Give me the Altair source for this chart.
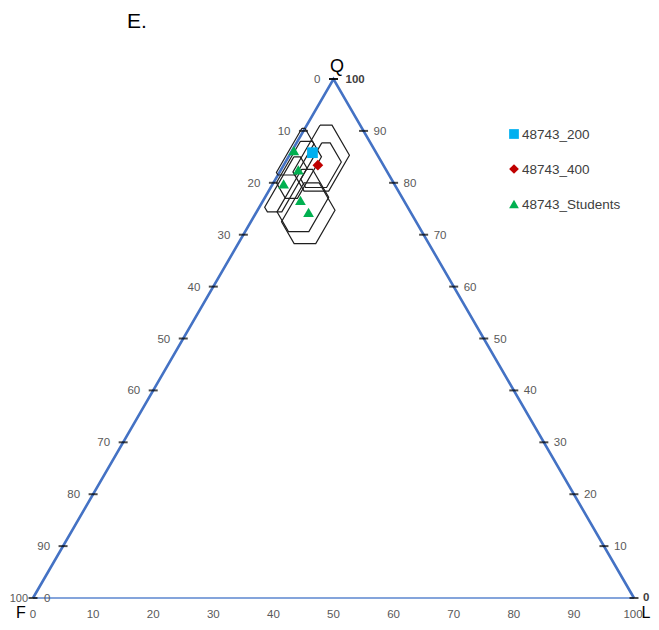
import altair as alt
import pandas as pd

# ---------------- data (ternary percentages) ----------------
series_names = ["48743_200", "48743_400", "48743_Students"]
series_colors = ["#00B0F0", "#C00000", "#00B050"]
series_shapes = ["square", "diamond", "triangle-up"]

pt_series = ["48743_200", "48743_400", "48743_Students", "48743_Students",
             "48743_Students", "48743_Students", "48743_Students"]
pt_Q = [85.8, 83.4, 86.2, 82.5, 79.8, 76.6, 74.3]
pt_L = [3.6, 5.7, 0.3, 2.9, 1.8, 6.2, 8.7]

# confidence hexagons: bounds on Q, L and F
hex_Qmin = [78.4, 79.1, 81.5, 77.0, 74.4, 70.6, 68.3]
hex_Qmax = [91.1, 87.7, 90.5, 88.0, 85.0, 82.6, 80.0]
hex_Lmin = [2.2, 4.2, -0.5, 0.5, 0.9, 3.4, 5.1]
hex_Lmax = [10.0, 9.3, 3.0, 5.5, 4.2, 10.6, 12.9]
hex_Fmin = [4.7, 6.7, 9.5, 9.5, 13.0, 12.2, 12.4]
hex_Fmax = [15.7, 15.1, 18.5, 19.5, 23.8, 22.2, 22.4]

left_labels = [0, 10, 20, 30, 40, 50, 60, 70, 80, 90, 100]     # top -> F corner
right_labels = [100, 90, 80, 70, 60, 50, 40, 30, 20, 10, 0]    # top -> L corner
bottom_labels = [0, 10, 20, 30, 40, 50, 60, 70, 80, 90, 100]   # F corner -> L corner

# ---------------- tables ----------------
pts = pd.DataFrame({"series": pt_series, "Q": pt_Q, "L": pt_L})

hex_rows = []
for i in range(len(hex_Qmin)):
    qn, qx = hex_Qmin[i], hex_Qmax[i]
    ln, lx = hex_Lmin[i], hex_Lmax[i]
    fn, fx = hex_Fmin[i], hex_Fmax[i]
    verts = [
        (qx, ln),
        (qx, 100 - qx - fn),
        (100 - lx - fn, lx),
        (qn, lx),
        (qn, 100 - qn - fx),
        (100 - ln - fx, ln),
    ]
    verts.append(verts[0])
    for k, (q, l) in enumerate(verts):
        hex_rows.append({"hex": i, "ord": k, "Q": q, "L": l})
hexes = pd.DataFrame(hex_rows)

slanted = pd.DataFrame({"ord": [0, 1, 2], "Q": [0, 100, 0], "L": [0, 0, 100]})
base_edge = pd.DataFrame({"ord": [0, 1], "Q": [0, 0], "L": [0, 100]})

left_df = pd.DataFrame({"t": left_labels, "Q": [100 - v for v in left_labels], "L": [0] * len(left_labels)})
right_df = pd.DataFrame({"t": right_labels, "Q": right_labels, "L": [100 - v for v in right_labels]})
bottom_df = pd.DataFrame({"t": bottom_labels, "Q": [0] * len(bottom_labels), "L": bottom_labels})
corner_zero = pd.DataFrame({"t": [0], "Q": [0], "L": [0]})

# ---------------- scales ----------------
W, H = 643, 614
xs = alt.Scale(domain=[-4.16, 102.83], nice=False, zero=False)
ys = alt.Scale(domain=[-4.62, 113.68], nice=False, zero=False)

FONT = "Liberation Sans"
LABEL_GRAY = "#595959"
FS = 11.5


def tern(df):
    return alt.Chart(df).transform_calculate(
        x="datum.L + datum.Q / 2", y="datum.Q"
    )


X = alt.X("x:Q", scale=xs, axis=None)
Y = alt.Y("y:Q", scale=ys, axis=None)

edges_thick = tern(slanted).mark_line(color="#4472C4", strokeWidth=2.6).encode(
    x=X, y=Y, order="ord:Q")
edges_thin = tern(base_edge).mark_line(color="#5B86CF", strokeWidth=1.3).encode(
    x=X, y=Y, order="ord:Q")

ticks_left = tern(left_df).mark_tick(orient="horizontal", size=9, thickness=2, color="black").encode(x=X, y=Y)
ticks_right = tern(right_df).mark_tick(orient="horizontal", size=9, thickness=2, color="black").encode(x=X, y=Y)

lab_left = tern(left_df).transform_filter("datum.t < 100").mark_text(
    align="right", baseline="middle", dx=-13, dy=1,
    font=FONT, fontSize=FS, color=LABEL_GRAY).encode(x=X, y=Y, text="t:N")
lab_left_end = tern(left_df).transform_filter("datum.t == 100").mark_text(
    align="right", baseline="middle", dx=-5, dy=1,
    font=FONT, fontSize=11, color=LABEL_GRAY).encode(x=X, y=Y, text="t:N")
lab_right = tern(right_df).transform_filter("datum.t > 0 && datum.t < 100").mark_text(
    align="left", baseline="middle", dx=10, dy=1, font=FONT, fontSize=FS, color=LABEL_GRAY).encode(
    x=X, y=Y, text="t:N")
lab_right_top = tern(right_df).transform_filter("datum.t == 100").mark_text(
    align="left", baseline="middle", dx=12, dy=1, font=FONT, fontSize=FS, fontWeight="bold",
    color="#404040").encode(x=X, y=Y, text="t:N")
lab_right_bottom = tern(right_df).transform_filter("datum.t == 0").mark_text(
    align="left", baseline="middle", dx=9, dy=0, font=FONT, fontSize=FS, fontWeight="bold",
    color="#404040").encode(x=X, y=Y, text="t:N")
lab_corner0 = tern(corner_zero).mark_text(
    align="left", baseline="middle", dx=11, dy=1, font=FONT, fontSize=FS, color=LABEL_GRAY).encode(
    x=X, y=Y, text="t:N")
lab_bottom = tern(bottom_df).transform_filter("datum.t < 100").mark_text(
    align="center", baseline="middle", dy=17,
    font=FONT, fontSize=FS, color=LABEL_GRAY).encode(x=X, y=Y, text="t:N")
lab_bottom_end = tern(bottom_df).transform_filter("datum.t == 100").mark_text(
    align="center", baseline="middle", dy=17, dx=-1,
    font=FONT, fontSize=FS, color=LABEL_GRAY).encode(x=X, y=Y, text="t:N")

hex_layer = tern(hexes).mark_line(color="#1f1f1f", strokeWidth=1.2).encode(
    x=X, y=Y, detail="hex:N", order="ord:Q")

points = tern(pts).mark_point(filled=True, size=115, opacity=1).encode(
    x=X, y=Y,
    color=alt.Color("series:N", scale=alt.Scale(domain=series_names, range=series_colors), legend=None),
    shape=alt.Shape("series:N", scale=alt.Scale(domain=series_names, range=series_shapes), legend=None),
)

# custom legend
legend_layers = []
leg_y = [126, 161, 196]
for name, col, shp, yy in zip(series_names, series_colors, series_shapes, leg_y):
    d = pd.DataFrame({"label": [name]})
    legend_layers.append(
        alt.Chart(d).mark_point(filled=True, opacity=1, size=95, shape=shp, color=col).encode(
            x=alt.value(506), y=alt.value(yy)))
    legend_layers.append(
        alt.Chart(d).mark_text(align="left", baseline="middle", font=FONT, fontSize=13.5,
                               color="#404040").encode(
            x=alt.value(514), y=alt.value(yy + 1), text="label:N"))


# titles / corner letters
def title_text(s, px, py, size, align="center", baseline="middle"):
    d = pd.DataFrame({"s": [s]})
    return alt.Chart(d).mark_text(align=align, baseline=baseline, font=FONT, fontSize=size,
                                  color="black").encode(x=alt.value(px), y=alt.value(py), text="s:N")


titles = [
    title_text("E.", 119, 14, 21, align="left"),
    title_text("Q", 329, 59, 18),
    title_text("F", 13, 613, 16, baseline="bottom"),
    title_text("L", 638, 613, 16, baseline="bottom"),
]

chart = alt.layer(
    edges_thick, edges_thin, ticks_left, ticks_right,
    lab_left, lab_left_end, lab_right, lab_right_top, lab_right_bottom, lab_corner0,
    lab_bottom, lab_bottom_end,
    hex_layer, points, *legend_layers, *titles
).properties(
    width=W, height=H, padding=0, autosize=alt.AutoSizeParams(type="none"),
    background="white"
).configure_view(stroke=None)

chart.save("out.html", embed_options={"renderer": "svg", "actions": False})
